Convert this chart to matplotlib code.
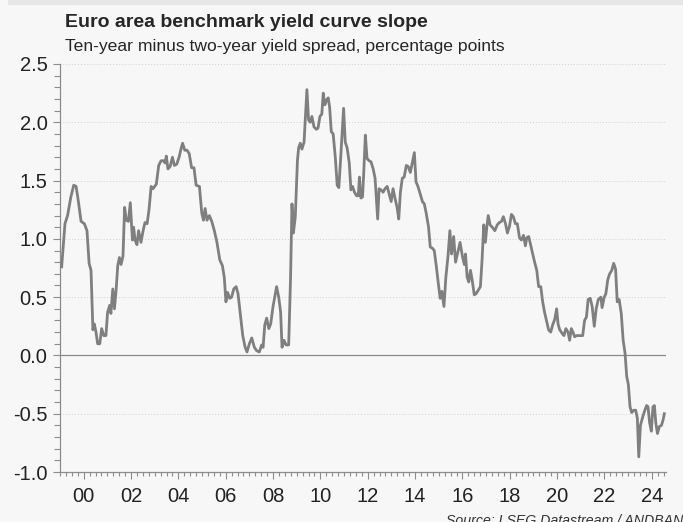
import matplotlib
matplotlib.use("Agg")
import matplotlib.pyplot as plt
import matplotlib.patches as mpatches
from matplotlib.ticker import MultipleLocator, FixedLocator
import numpy as np

# 10y minus 2y euro area benchmark spread, decimal years
years = [
    1999.07, 1999.21, 1999.32, 1999.46, 1999.58, 1999.68, 1999.77, 1999.89,
    2000.03, 2000.14, 2000.23, 2000.31, 2000.39, 2000.45, 2000.52, 2000.59,
    2000.68, 2000.76, 2000.85, 2000.94, 2001.01, 2001.10, 2001.15, 2001.23,
    2001.30, 2001.37, 2001.44, 2001.51, 2001.58, 2001.66, 2001.73, 2001.80,
    2001.89, 2001.97, 2002.06, 2002.11, 2002.17, 2002.25, 2002.32, 2002.42,
    2002.51, 2002.59, 2002.68, 2002.76, 2002.85, 2002.93, 2003.07, 2003.17,
    2003.27, 2003.38, 2003.44, 2003.49, 2003.56, 2003.65, 2003.75, 2003.83,
    2003.93, 2004.03, 2004.11, 2004.18, 2004.27, 2004.37, 2004.46, 2004.56,
    2004.66, 2004.75, 2004.89, 2004.99, 2005.06, 2005.13, 2005.21, 2005.31,
    2005.41, 2005.52, 2005.63, 2005.75, 2005.86, 2005.94, 2006.01, 2006.08,
    2006.17, 2006.25, 2006.34, 2006.44, 2006.52, 2006.62, 2006.72, 2006.82,
    2006.90, 2007.00, 2007.10, 2007.21, 2007.31, 2007.42, 2007.52, 2007.58,
    2007.65, 2007.73, 2007.82, 2007.90, 2008.00, 2008.07, 2008.15, 2008.24,
    2008.32, 2008.38, 2008.46, 2008.55, 2008.66, 2008.74, 2008.80, 2008.86,
    2008.94, 2009.03, 2009.08, 2009.15, 2009.22, 2009.31, 2009.38, 2009.43,
    2009.50, 2009.57, 2009.64, 2009.73, 2009.83, 2009.90, 2009.98, 2010.06,
    2010.12, 2010.19, 2010.26, 2010.33, 2010.39, 2010.46, 2010.54, 2010.63,
    2010.71, 2010.78, 2010.85, 2010.92, 2010.98, 2011.05, 2011.13, 2011.22,
    2011.29, 2011.36, 2011.44, 2011.53, 2011.60, 2011.65, 2011.71, 2011.78,
    2011.83, 2011.90, 2011.97, 2012.06, 2012.14, 2012.23, 2012.31, 2012.37,
    2012.42, 2012.48, 2012.56, 2012.65, 2012.73, 2012.82, 2012.90, 2012.99,
    2013.07, 2013.15, 2013.24, 2013.31, 2013.38, 2013.46, 2013.54, 2013.63,
    2013.71, 2013.80, 2013.88, 2013.97, 2014.04, 2014.12, 2014.21, 2014.31,
    2014.39, 2014.47, 2014.57, 2014.64, 2014.73, 2014.81, 2014.90, 2014.98,
    2015.06, 2015.13, 2015.22, 2015.30, 2015.39, 2015.47, 2015.54, 2015.63,
    2015.71, 2015.79, 2015.90, 2016.00, 2016.08, 2016.13, 2016.20, 2016.27,
    2016.34, 2016.41, 2016.50, 2016.58, 2016.67, 2016.76, 2016.83, 2016.90,
    2016.97, 2017.03, 2017.09, 2017.17, 2017.26, 2017.37, 2017.47, 2017.56,
    2017.65, 2017.73, 2017.82, 2017.90, 2017.99, 2018.07, 2018.15, 2018.24,
    2018.32, 2018.41, 2018.49, 2018.58, 2018.66, 2018.72, 2018.80, 2018.88,
    2018.97, 2019.05, 2019.14, 2019.22, 2019.31, 2019.39, 2019.47, 2019.56,
    2019.64, 2019.73, 2019.81, 2019.90, 2019.98, 2020.04, 2020.11, 2020.21,
    2020.29, 2020.37, 2020.46, 2020.53, 2020.60, 2020.67, 2020.74, 2020.82,
    2020.91, 2020.99, 2021.08, 2021.16, 2021.24, 2021.31, 2021.40, 2021.48,
    2021.57, 2021.65, 2021.74, 2021.85, 2021.90, 2021.99, 2022.06, 2022.14,
    2022.22, 2022.31, 2022.39, 2022.47, 2022.54, 2022.62, 2022.71, 2022.79,
    2022.87, 2022.94, 2023.01, 2023.08, 2023.15, 2023.24, 2023.32, 2023.39,
    2023.45, 2023.52, 2023.60, 2023.69, 2023.78, 2023.84, 2023.91, 2023.98,
    2024.05, 2024.11, 2024.17, 2024.24, 2024.32, 2024.41, 2024.48, 2024.53,
]
spread = [
    0.76, 1.13, 1.20, 1.36, 1.46, 1.45, 1.33, 1.15,
    1.13, 1.07, 0.79, 0.73, 0.22, 0.27, 0.20, 0.10,
    0.10, 0.23, 0.17, 0.17, 0.37, 0.43, 0.36, 0.57,
    0.40, 0.56, 0.77, 0.84, 0.78, 0.85, 1.27, 1.16,
    1.15, 1.31, 0.99, 1.10, 0.99, 0.95, 1.07, 0.97,
    1.07, 1.14, 1.13, 1.25, 1.45, 1.43, 1.47, 1.63,
    1.67, 1.67, 1.65, 1.71, 1.60, 1.62, 1.70, 1.63,
    1.64, 1.70, 1.77, 1.82, 1.76, 1.76, 1.73, 1.61,
    1.61, 1.46, 1.45, 1.22, 1.16, 1.26, 1.16, 1.20,
    1.15, 1.07, 0.97, 0.82, 0.77, 0.67, 0.46, 0.54,
    0.49, 0.50, 0.57, 0.59, 0.53, 0.35, 0.17, 0.07,
    0.03, 0.10, 0.15, 0.07, 0.04, 0.03, 0.09, 0.07,
    0.26, 0.32, 0.23, 0.27, 0.42, 0.50, 0.59, 0.50,
    0.37, 0.07, 0.13, 0.09, 0.09, 0.67, 1.30, 1.05,
    1.19, 1.67, 1.78, 1.82, 1.77, 1.83, 2.09, 2.28,
    2.02, 2.00, 2.05, 1.96, 1.94, 1.95, 2.05, 2.07,
    2.25, 2.15, 2.19, 2.21, 2.13, 1.92, 1.90, 1.70,
    1.46, 1.44, 1.67, 1.92, 2.12, 1.83, 1.78, 1.65,
    1.42, 1.45, 1.40, 1.37, 1.37, 1.53, 1.35, 1.36,
    1.56, 1.89, 1.69, 1.67, 1.66, 1.60, 1.52, 1.33,
    1.17, 1.43, 1.42, 1.40, 1.43, 1.45, 1.39, 1.32,
    1.43, 1.35, 1.27, 1.17, 1.40, 1.52, 1.53, 1.63,
    1.62, 1.57, 1.65, 1.74, 1.49, 1.45, 1.39, 1.32,
    1.30, 1.22, 1.10, 0.93, 0.92, 0.90, 0.76, 0.62,
    0.49, 0.55, 0.42, 0.67, 0.85, 1.07, 0.87, 1.02,
    0.80, 0.87, 0.97, 0.85, 0.78, 0.87, 0.67, 0.63,
    0.73, 0.65, 0.52, 0.53, 0.56, 0.59, 0.82, 1.12,
    0.97, 1.10, 1.20, 1.12, 1.10, 1.07, 1.12, 1.14,
    1.15, 1.19, 1.13, 1.05, 1.11, 1.21, 1.19, 1.13,
    1.13, 1.01, 0.99, 1.03, 0.94, 1.01, 1.02, 0.95,
    0.87, 0.80, 0.73, 0.59, 0.59, 0.46, 0.37, 0.29,
    0.22, 0.20, 0.26, 0.31, 0.40, 0.27, 0.22, 0.19,
    0.17, 0.23, 0.20, 0.13, 0.23, 0.20, 0.16, 0.17,
    0.17, 0.17, 0.17, 0.30, 0.33, 0.48, 0.49, 0.42,
    0.25, 0.40, 0.48, 0.50, 0.41, 0.50, 0.53, 0.65,
    0.70, 0.73, 0.79, 0.74, 0.46, 0.48, 0.36, 0.13,
    0.02, -0.18, -0.25, -0.44, -0.49, -0.47, -0.47, -0.54,
    -0.87, -0.60, -0.54, -0.48, -0.43, -0.44, -0.58, -0.65,
    -0.44, -0.43, -0.58, -0.67, -0.61, -0.60, -0.55, -0.50,
]
tick_years = list(range(2000, 2025, 2))
tick_labels = ["00", "02", "04", "06", "08", "10", "12", "14", "16", "18", "20", "22", "24"]

plt.rcParams["font.family"] = ["Liberation Sans", "DejaVu Sans"]

bg = "#f7f7f7"
axis_grey = "#8c8c8c"

W, H = 683, 522
fig = plt.figure(figsize=(W / 100, H / 100), dpi=100, facecolor=bg)

# thin band across the top edge
fig.patches.append(mpatches.Rectangle((8 / W, 1 - 5 / H), 1, 5 / H, transform=fig.transFigure,
                                      facecolor="#e6e6e4", edgecolor="none"))

ax = fig.add_axes([60 / W, 1 - 472 / H, (666 - 60) / W, (472 - 64) / H], facecolor=bg)

ax.plot(years, spread, color="#7f7f7f", linewidth=2.0, solid_joinstyle="round", zorder=3)
ax.axhline(0, color="#8a8a8a", linewidth=0.9, zorder=2)

ax.set_xlim(1999.0, 2024.6)
ax.set_ylim(-1.0, 2.5)

ax.yaxis.set_major_locator(MultipleLocator(0.5))
ax.yaxis.set_minor_locator(MultipleLocator(0.1))
ax.yaxis.set_major_formatter(matplotlib.ticker.FormatStrFormatter("%.1f"))
ax.xaxis.set_major_locator(FixedLocator(tick_years))
ax.xaxis.set_minor_locator(MultipleLocator(0.25))
ax.set_xticklabels(tick_labels)

ax.grid(axis="y", which="major", color="#cfcfcf", linestyle=(0, (1, 2)), linewidth=0.7, zorder=1)

for side in ("top", "right"):
    ax.spines[side].set_visible(False)
for side in ("left", "bottom"):
    ax.spines[side].set_color(axis_grey)
    ax.spines[side].set_linewidth(0.9)

ax.tick_params(axis="both", which="both", colors=axis_grey, width=0.8, labelcolor="#222222",
               labelsize=14.5)
ax.tick_params(axis="y", which="major", length=5, pad=4)
ax.tick_params(axis="y", which="minor", length=4)
ax.tick_params(axis="x", which="major", length=5, pad=6)
ax.tick_params(axis="x", which="minor", length=3)

fig.text(65 / W, 1 - 27 / H, "Euro area benchmark yield curve slope", fontsize=14,
         fontweight="bold", color="#262626", va="baseline", ha="left")
fig.text(65 / W, 1 - 51 / H, "Ten-year minus two-year yield spread, percentage points",
         fontsize=12.6, color="#262626", va="baseline", ha="left")
fig.text(446 / W, 1 - 525 / H, "Source: LSEG Datastream / ANDBANK", fontsize=10.2,
         style="italic", color="#333333", va="baseline", ha="left")

fig.savefig("out.png", dpi=100, facecolor=bg)
